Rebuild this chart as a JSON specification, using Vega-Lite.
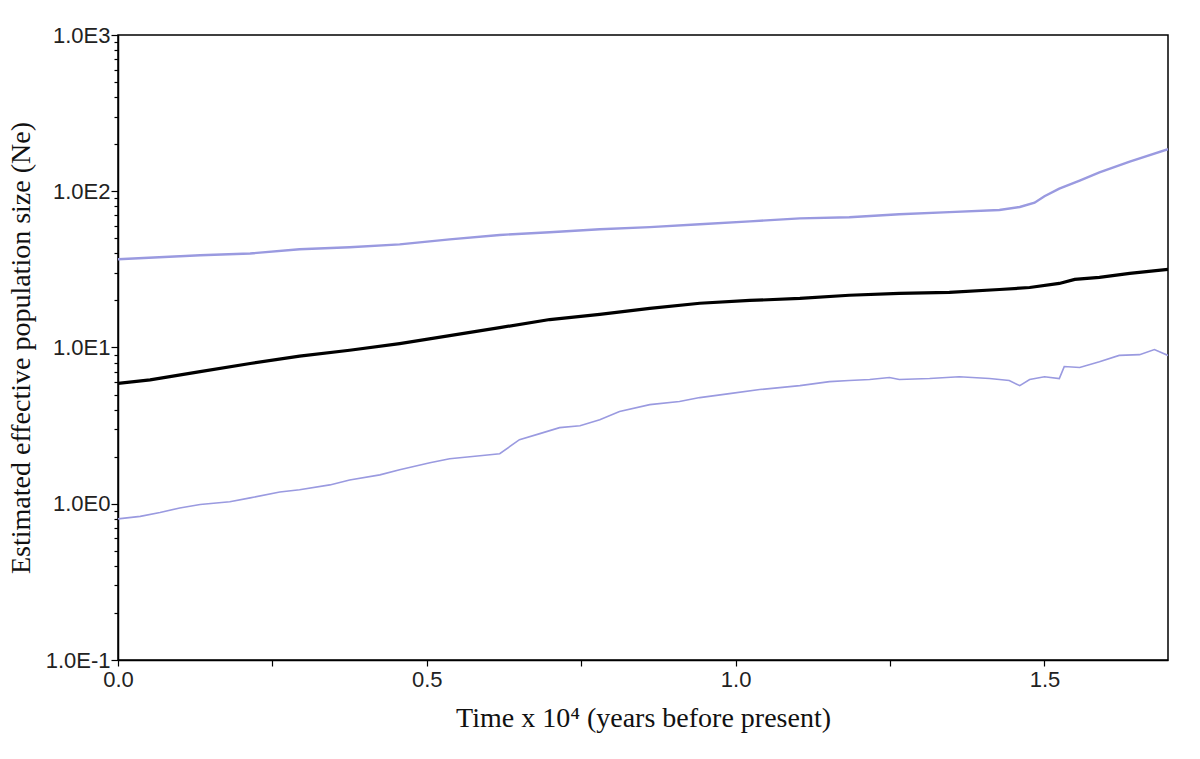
{
  "$schema": "https://vega.github.io/schema/vega-lite/v6.json",
  "autosize": "none",
  "width": 1050,
  "height": 625,
  "padding": {"left": 118, "top": 35, "right": 32, "bottom": 99},
  "background": "white",
  "config": {
    "view": {"stroke": "black", "strokeWidth": 1.5}
  },
  "data": {"values": [
    {"t": 0.0, "ne": 5.9, "s": "mean"},
    {"t": 0.052, "ne": 6.2, "s": "mean"},
    {"t": 0.133, "ne": 7.0, "s": "mean"},
    {"t": 0.214, "ne": 7.9, "s": "mean"},
    {"t": 0.294, "ne": 8.8, "s": "mean"},
    {"t": 0.375, "ne": 9.6, "s": "mean"},
    {"t": 0.456, "ne": 10.6, "s": "mean"},
    {"t": 0.537, "ne": 11.9, "s": "mean"},
    {"t": 0.618, "ne": 13.4, "s": "mean"},
    {"t": 0.699, "ne": 15.1, "s": "mean"},
    {"t": 0.78, "ne": 16.3, "s": "mean"},
    {"t": 0.861, "ne": 17.8, "s": "mean"},
    {"t": 0.942, "ne": 19.2, "s": "mean"},
    {"t": 1.023, "ne": 20.0, "s": "mean"},
    {"t": 1.104, "ne": 20.6, "s": "mean"},
    {"t": 1.184, "ne": 21.6, "s": "mean"},
    {"t": 1.265, "ne": 22.2, "s": "mean"},
    {"t": 1.346, "ne": 22.5, "s": "mean"},
    {"t": 1.427, "ne": 23.5, "s": "mean"},
    {"t": 1.476, "ne": 24.2, "s": "mean"},
    {"t": 1.524, "ne": 25.7, "s": "mean"},
    {"t": 1.549, "ne": 27.3, "s": "mean"},
    {"t": 1.589, "ne": 28.1, "s": "mean"},
    {"t": 1.638, "ne": 29.8, "s": "mean"},
    {"t": 1.7, "ne": 31.6, "s": "mean"},

    {"t": 0.0, "ne": 36.7, "s": "upper"},
    {"t": 0.133, "ne": 38.9, "s": "upper"},
    {"t": 0.214, "ne": 40.0, "s": "upper"},
    {"t": 0.294, "ne": 42.5, "s": "upper"},
    {"t": 0.375, "ne": 43.8, "s": "upper"},
    {"t": 0.456, "ne": 45.7, "s": "upper"},
    {"t": 0.537, "ne": 49.2, "s": "upper"},
    {"t": 0.618, "ne": 52.5, "s": "upper"},
    {"t": 0.699, "ne": 54.7, "s": "upper"},
    {"t": 0.78, "ne": 57.1, "s": "upper"},
    {"t": 0.861, "ne": 58.9, "s": "upper"},
    {"t": 0.942, "ne": 61.5, "s": "upper"},
    {"t": 1.023, "ne": 64.2, "s": "upper"},
    {"t": 1.104, "ne": 67.1, "s": "upper"},
    {"t": 1.184, "ne": 68.1, "s": "upper"},
    {"t": 1.265, "ne": 71.2, "s": "upper"},
    {"t": 1.346, "ne": 73.5, "s": "upper"},
    {"t": 1.427, "ne": 75.8, "s": "upper"},
    {"t": 1.46, "ne": 79.3, "s": "upper"},
    {"t": 1.484, "ne": 84.5, "s": "upper"},
    {"t": 1.5, "ne": 93.0, "s": "upper"},
    {"t": 1.524, "ne": 104, "s": "upper"},
    {"t": 1.557, "ne": 117, "s": "upper"},
    {"t": 1.589, "ne": 132, "s": "upper"},
    {"t": 1.638, "ne": 155, "s": "upper"},
    {"t": 1.7, "ne": 186, "s": "upper"},

    {"t": 0.0, "ne": 0.80, "s": "lower"},
    {"t": 0.036, "ne": 0.83, "s": "lower"},
    {"t": 0.068, "ne": 0.88, "s": "lower"},
    {"t": 0.1, "ne": 0.94, "s": "lower"},
    {"t": 0.133, "ne": 0.99, "s": "lower"},
    {"t": 0.181, "ne": 1.03, "s": "lower"},
    {"t": 0.214, "ne": 1.09, "s": "lower"},
    {"t": 0.262, "ne": 1.19, "s": "lower"},
    {"t": 0.294, "ne": 1.23, "s": "lower"},
    {"t": 0.343, "ne": 1.32, "s": "lower"},
    {"t": 0.375, "ne": 1.42, "s": "lower"},
    {"t": 0.424, "ne": 1.53, "s": "lower"},
    {"t": 0.456, "ne": 1.65, "s": "lower"},
    {"t": 0.505, "ne": 1.83, "s": "lower"},
    {"t": 0.537, "ne": 1.94, "s": "lower"},
    {"t": 0.586, "ne": 2.03, "s": "lower"},
    {"t": 0.618, "ne": 2.09, "s": "lower"},
    {"t": 0.65, "ne": 2.57, "s": "lower"},
    {"t": 0.683, "ne": 2.81, "s": "lower"},
    {"t": 0.715, "ne": 3.07, "s": "lower"},
    {"t": 0.748, "ne": 3.16, "s": "lower"},
    {"t": 0.78, "ne": 3.45, "s": "lower"},
    {"t": 0.812, "ne": 3.89, "s": "lower"},
    {"t": 0.861, "ne": 4.31, "s": "lower"},
    {"t": 0.909, "ne": 4.51, "s": "lower"},
    {"t": 0.942, "ne": 4.78, "s": "lower"},
    {"t": 0.99, "ne": 5.07, "s": "lower"},
    {"t": 1.039, "ne": 5.38, "s": "lower"},
    {"t": 1.104, "ne": 5.7, "s": "lower"},
    {"t": 1.152, "ne": 6.05, "s": "lower"},
    {"t": 1.184, "ne": 6.15, "s": "lower"},
    {"t": 1.217, "ne": 6.24, "s": "lower"},
    {"t": 1.249, "ne": 6.42, "s": "lower"},
    {"t": 1.265, "ne": 6.24, "s": "lower"},
    {"t": 1.314, "ne": 6.33, "s": "lower"},
    {"t": 1.362, "ne": 6.5, "s": "lower"},
    {"t": 1.411, "ne": 6.33, "s": "lower"},
    {"t": 1.443, "ne": 6.15, "s": "lower"},
    {"t": 1.46, "ne": 5.7, "s": "lower"},
    {"t": 1.476, "ne": 6.24, "s": "lower"},
    {"t": 1.5, "ne": 6.5, "s": "lower"},
    {"t": 1.524, "ne": 6.33, "s": "lower"},
    {"t": 1.532, "ne": 7.55, "s": "lower"},
    {"t": 1.557, "ne": 7.44, "s": "lower"},
    {"t": 1.589, "ne": 8.1, "s": "lower"},
    {"t": 1.621, "ne": 8.9, "s": "lower"},
    {"t": 1.654, "ne": 9.0, "s": "lower"},
    {"t": 1.678, "ne": 9.7, "s": "lower"},
    {"t": 1.7, "ne": 8.9, "s": "lower"}
  ]},
  "mark": {"type": "line", "clip": true},
  "encoding": {
    "x": {"field": "t", "type": "quantitative",
      "scale": {"domain": [0, 1.7], "nice": false, "zero": false},
      "axis": {"title": "Time x 10⁴ (years before present)", "values": [0, 0.25, 0.5, 0.75, 1, 1.25, 1.5],
        "labelExpr": "(round(datum.value*100) % 50 == 0) ? format(datum.value, '.1f') : ''",
        "grid": false, "domainColor": "black", "domainWidth": 1.5, "tickColor": "black", "tickWidth": 1.2,
        "labelFont": "Liberation Sans", "labelFontSize": 22, "labelColor": "#222",
        "titleFont": "Liberation Serif", "titleFontSize": 28, "titleFontWeight": "normal", "titleColor": "#111",
        "tickSize": 6, "labelPadding": 3, "titlePadding": 14, "labelFlush": false}},
    "y": {"field": "ne", "type": "quantitative",
      "scale": {"type": "log", "domain": [0.1, 1000], "nice": false},
      "axis": {"title": "Estimated effective population size (Ne)",
        "values": [0.1,0.2,0.3,0.4,0.5,0.6,0.7,0.8,0.9,1,2,3,4,5,6,7,8,9,10,20,30,40,50,60,70,80,90,100,200,300,400,500,600,700,800,900,1000],
        "labelExpr": "abs(log(datum.value)/LN10 - round(log(datum.value)/LN10)) < 1e-6 ? '1.0E' + round(log(datum.value)/LN10) : ''",
        "grid": false, "domainColor": "black", "domainWidth": 1.5, "tickColor": "black", "tickWidth": 1.2,
        "labelFont": "Liberation Sans", "labelFontSize": 22, "labelColor": "#222",
        "titleFont": "Liberation Serif", "titleFontSize": 28, "titleFontWeight": "normal", "titleColor": "#111",
        "tickSize": {"condition": {"test": "abs(log(datum.value)/LN10 - round(log(datum.value)/LN10)) < 1e-6", "value": 7}, "value": 4},
        "labelPadding": 1, "titlePadding": 10, "labelFlush": false}},
    "detail": {"field": "s"},
    "color": {"field": "s", "type": "nominal", "scale": {"domain": ["mean", "upper", "lower"], "range": ["#000000", "#9a9ae0", "#9a9ae0"]}, "legend": null},
    "strokeWidth": {"field": "s", "type": "nominal", "scale": {"domain": ["mean", "upper", "lower"], "range": [3.2, 1.6, 1.6]}, "legend": null}
  }
}
